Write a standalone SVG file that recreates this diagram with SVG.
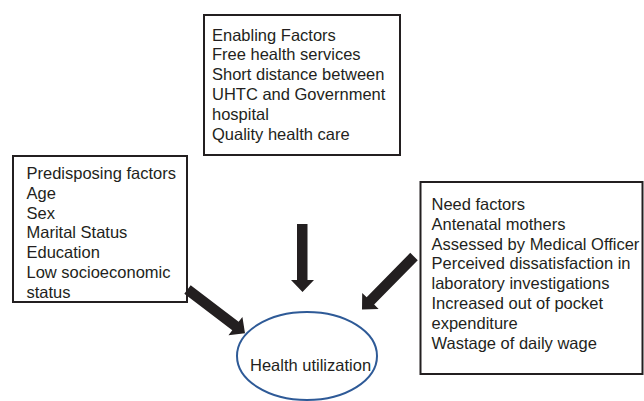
<svg xmlns="http://www.w3.org/2000/svg" width="644" height="401" viewBox="0 0 644 401">
  <style>
    .box { fill: #ffffff; stroke: #231f20; stroke-width: 2; }
    .label { font-family: "Liberation Sans", Arial, sans-serif; font-size: 16.5px; fill: #231f20; }
    .arrow { fill: #231f20; stroke: none; }
    .outcome { fill: #ffffff; stroke: #2e5a97; stroke-width: 2; }
  </style>
  <rect width="644" height="401" fill="#ffffff"/>

  <g id="enabling">
    <rect class="box" x="204" y="15" width="196" height="140"/>
    <text class="label" x="212" y="40.5">
      <tspan x="212">Enabling Factors</tspan>
      <tspan x="212" dy="19.8">Free health services</tspan>
      <tspan x="212" dy="19.8">Short distance between</tspan>
      <tspan x="212" dy="19.8">UHTC and Government</tspan>
      <tspan x="212" dy="19.8">hospital</tspan>
      <tspan x="212" dy="19.8">Quality health care</tspan>
    </text>
  </g>

  <g id="predisposing">
    <rect class="box" x="13" y="156" width="174" height="146"/>
    <text class="label" x="26.5" y="179">
      <tspan x="26.5">Predisposing factors</tspan>
      <tspan x="26.5" dy="19.8">Age</tspan>
      <tspan x="26.5" dy="19.8">Sex</tspan>
      <tspan x="26.5" dy="19.8">Marital Status</tspan>
      <tspan x="26.5" dy="19.8">Education</tspan>
      <tspan x="26.5" dy="19.8">Low socioeconomic</tspan>
      <tspan x="26.5" dy="19.8">status</tspan>
    </text>
  </g>

  <g id="need">
    <rect class="box" x="420.5" y="182" width="222" height="192"/>
    <text class="label" x="431.5" y="210">
      <tspan x="431.5">Need factors</tspan>
      <tspan x="431.5" dy="19.8">Antenatal mothers</tspan>
      <tspan x="431.5" dy="19.8">Assessed by Medical Officer</tspan>
      <tspan x="431.5" dy="19.8">Perceived dissatisfaction in</tspan>
      <tspan x="431.5" dy="19.8">laboratory investigations</tspan>
      <tspan x="431.5" dy="19.8">Increased out of pocket</tspan>
      <tspan x="431.5" dy="19.8">expenditure</tspan>
      <tspan x="431.5" dy="19.8">Wastage of daily wage</tspan>
    </text>
  </g>

  <g id="utilization">
    <ellipse class="outcome" cx="307" cy="356" rx="70" ry="44"/>
    <text class="label" x="250" y="370.5">Health utilization</text>
  </g>

  <g id="connectors">
    <!-- predisposing -> utilization -->
    <polygon class="arrow" points="190.68,285.32 238.63,321.85 242.42,316.88 245,333.3 228.48,335.18 232.27,330.21 184.32,293.68"/>
    <!-- enabling -> utilization -->
    <polygon class="arrow" points="297,224 307.5,224 307.5,280 314,280 302.5,292 291,280 297,280"/>
    <!-- need -> utilization -->
    <polygon class="arrow" points="410.25,252.82 366.65,297.25 362.19,292.88 362,309.5 378.61,308.98 374.15,304.61 417.75,260.18"/>
  </g>
</svg>
